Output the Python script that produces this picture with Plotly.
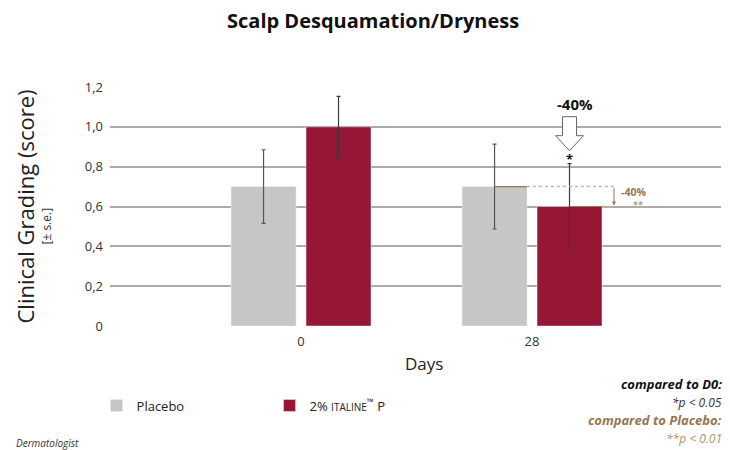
import plotly.graph_objects as go

# ---- data ----
days = ["0", "28"]
placebo = [0.70, 0.70]
placebo_se = [0.185, 0.213]
italine = [1.00, 0.60]
italine_se = [0.153, 0.215]
y_ticks = [0, 0.2, 0.4, 0.6, 0.8, 1.0, 1.2]
y_ticktext = ["0", "0,2", "0,4", "0,6", "0,8", "1,0", "1,2"]
change_label = "-40%"

GREY = "#c6c6c6"
RED = "#961635"
TAN = "#957650"
FONT = "Open Sans"

xpos = list(range(len(days)))

fig = go.Figure()
fig.add_trace(go.Bar(
    x=xpos, y=placebo, name="Placebo", marker_color=GREY,
    error_y=dict(type="data", array=placebo_se, color="#555555", thickness=1.2, width=2),
))
fig.add_trace(go.Bar(
    x=xpos, y=italine,
    name="2% <span style='font-size:10px'>ITALINE</span><sup style='font-size:6px'>™</sup> P",
    marker_color=RED,
    error_y=dict(type="data", array=italine_se, color="#3a3a3a", thickness=1.2, width=2),
))

bargap = 0.351
bargroupgap = 0.1333
slot = (1 - bargap) / 2
off = slot / 2                       # bar centre offset from group centre
half = slot * (1 - bargroupgap) / 2  # half bar width

T, B = 87, 124
PH = 450 - T - B

fig.update_layout(
    width=730, height=450,
    margin=dict(l=110, r=9, t=T, b=B),
    paper_bgcolor="white", plot_bgcolor="white",
    barmode="group", bargap=bargap, bargroupgap=bargroupgap,
    font=dict(family=FONT, color="#333333"),
    showlegend=True,
    legend=dict(orientation="h", x=-0.022, xanchor="left", y=-0.27, yanchor="top",
                font=dict(size=13, color="#222222", family=FONT),
                entrywidth=128, entrywidthmode="pixels", bgcolor="rgba(0,0,0,0)"),
    xaxis=dict(range=[-0.827, 1.818], tickvals=xpos, ticktext=days, showgrid=False,
               zeroline=False, showline=False, ticks="", ticklabelstandoff=6,
               tickfont=dict(size=13, color="#333333")),
    yaxis=dict(range=[0, 1.2], tickvals=y_ticks, ticktext=y_ticktext, showgrid=True,
               gridcolor="#ababab", gridwidth=1.5, zeroline=False, showline=False,
               ticks="", ticklabelstandoff=6, tickfont=dict(size=13, color="#333333")),
)

# title
fig.add_annotation(text="<b>Scalp Desquamation/Dryness</b>", xref="paper", yref="paper",
                   x=0.43, y=1.0, yshift=67, yanchor="middle", showarrow=False,
                   xanchor="center", font=dict(size=20, color="#111111", family=FONT))
# axis titles
fig.add_annotation(text="Clinical Grading (score)", xref="paper", yref="paper", x=0,
                   xshift=-86, xanchor="center", y=0.5, yshift=0, yanchor="middle",
                   textangle=-90, showarrow=False,
                   font=dict(size=22, color="#222222", family=FONT))
fig.add_annotation(text="[± s.e.]", xref="paper", yref="paper", x=0, xshift=-64,
                   xanchor="center", y=0.5, yshift=-20, yanchor="middle", textangle=-90,
                   showarrow=False, font=dict(size=12, color="#333333", family=FONT))
fig.add_annotation(text="Days", xref="paper", yref="paper", x=0.5, xshift=8, y=0,
                   yshift=-37, yanchor="middle", showarrow=False,
                   font=dict(size=17, color="#222222", family=FONT))

# ---- comparison annotation at day 28 ----
g = xpos[1]
p_c, p_r = g - off, g - off + half
i_c, i_r = g + off, g + off + half
arrow_x = i_r + 12 / 231
fig.add_shape(type="line", x0=p_c, x1=p_r, y0=placebo[1], y1=placebo[1],
              line=dict(color=TAN, width=1.2))
fig.add_shape(type="line", x0=p_r, x1=arrow_x, y0=placebo[1], y1=placebo[1],
              line=dict(color="#c9b795", width=1.5, dash="dot"))
fig.add_shape(type="line", x0=i_c, x1=i_r, y0=italine[1], y1=italine[1],
              line=dict(color=TAN, width=1.2))
fig.add_shape(type="line", x0=i_r, x1=arrow_x, y0=italine[1], y1=italine[1],
              line=dict(color="#c9b795", width=1.5, dash="dot"))
fig.add_annotation(x=arrow_x, y=italine[1] + 0.005, ax=arrow_x, ay=placebo[1],
                   xref="x", yref="y", axref="x", ayref="y", text="", showarrow=True,
                   arrowhead=2, arrowsize=0.8, arrowwidth=1, arrowcolor=TAN)
fig.add_annotation(x=arrow_x, y=(placebo[1] + italine[1]) / 2 + 0.025, xref="x", yref="y",
                   text=f"<b>{change_label}</b>", showarrow=False, xanchor="left", xshift=5,
                   font=dict(size=10.5, color=TAN, family=FONT))
fig.add_annotation(x=arrow_x, y=(placebo[1] + italine[1]) / 2 - 0.04, xref="x", yref="y",
                   text="<b>**</b>", showarrow=False, xanchor="left", xshift=17,
                   font=dict(size=9, color="#b09c78", family=FONT))
# significance star vs D0
fig.add_annotation(x=i_c, y=italine[1] + italine_se[1], xref="x", yref="y", text="<b>*</b>",
                   showarrow=False, yanchor="middle", yshift=5,
                   font=dict(size=13, color="#111111", family=FONT))

# big hollow arrow and -40%
u = 1 / 231        # x-units per pixel
v = 1.2 / PH       # y-units per pixel
tip_y = italine[1] + italine_se[1] + 13 * v
path = (f"M{i_c - 7*u},{tip_y + 34*v} L{i_c + 7*u},{tip_y + 34*v} "
        f"L{i_c + 7*u},{tip_y + 15*v} L{i_c + 14*u},{tip_y + 15*v} "
        f"L{i_c},{tip_y} L{i_c - 14*u},{tip_y + 15*v} L{i_c - 7*u},{tip_y + 15*v} Z")
fig.add_shape(type="path", path=path, xref="x", yref="y",
              line=dict(color="#666666", width=1), fillcolor="white")
fig.add_annotation(x=i_c, y=tip_y + 34 * v, xref="x", yref="y", text=f"<b>{change_label}</b>",
                   showarrow=False, yanchor="bottom", yshift=1, xshift=5,
                   font=dict(size=15, color="#111111", family=FONT))

# footnotes
notes = [
    ("<b><i>compared to D0:</i></b>", "#111111", 384, 13),
    ("<i>*p &lt; 0.05</i>", "#333333", 402, 12),
    ("<b><i>compared to Placebo:</i></b>", TAN, 420, 13),
    ("<i>**p &lt; 0.01</i>", "#a89272", 438, 12),
]
for txt, col, ypx, sz in notes:
    fig.add_annotation(text=txt, xref="paper", yref="paper", x=1, xshift=3, xanchor="right",
                       y=(450 - B - ypx) / PH, yanchor="middle", showarrow=False,
                       font=dict(size=sz, color=col, family=FONT))
fig.add_annotation(text="<i>Dermatologist</i>", xref="paper", yref="paper", x=0, xshift=-96,
                   xanchor="left", y=(450 - B - 443) / PH, yanchor="middle",
                   showarrow=False, font=dict(size=10, color="#333333", family=FONT))

fig.write_html("out.html", config={"displayModeBar": False},
               post_script="document.body.style.margin='0';")
